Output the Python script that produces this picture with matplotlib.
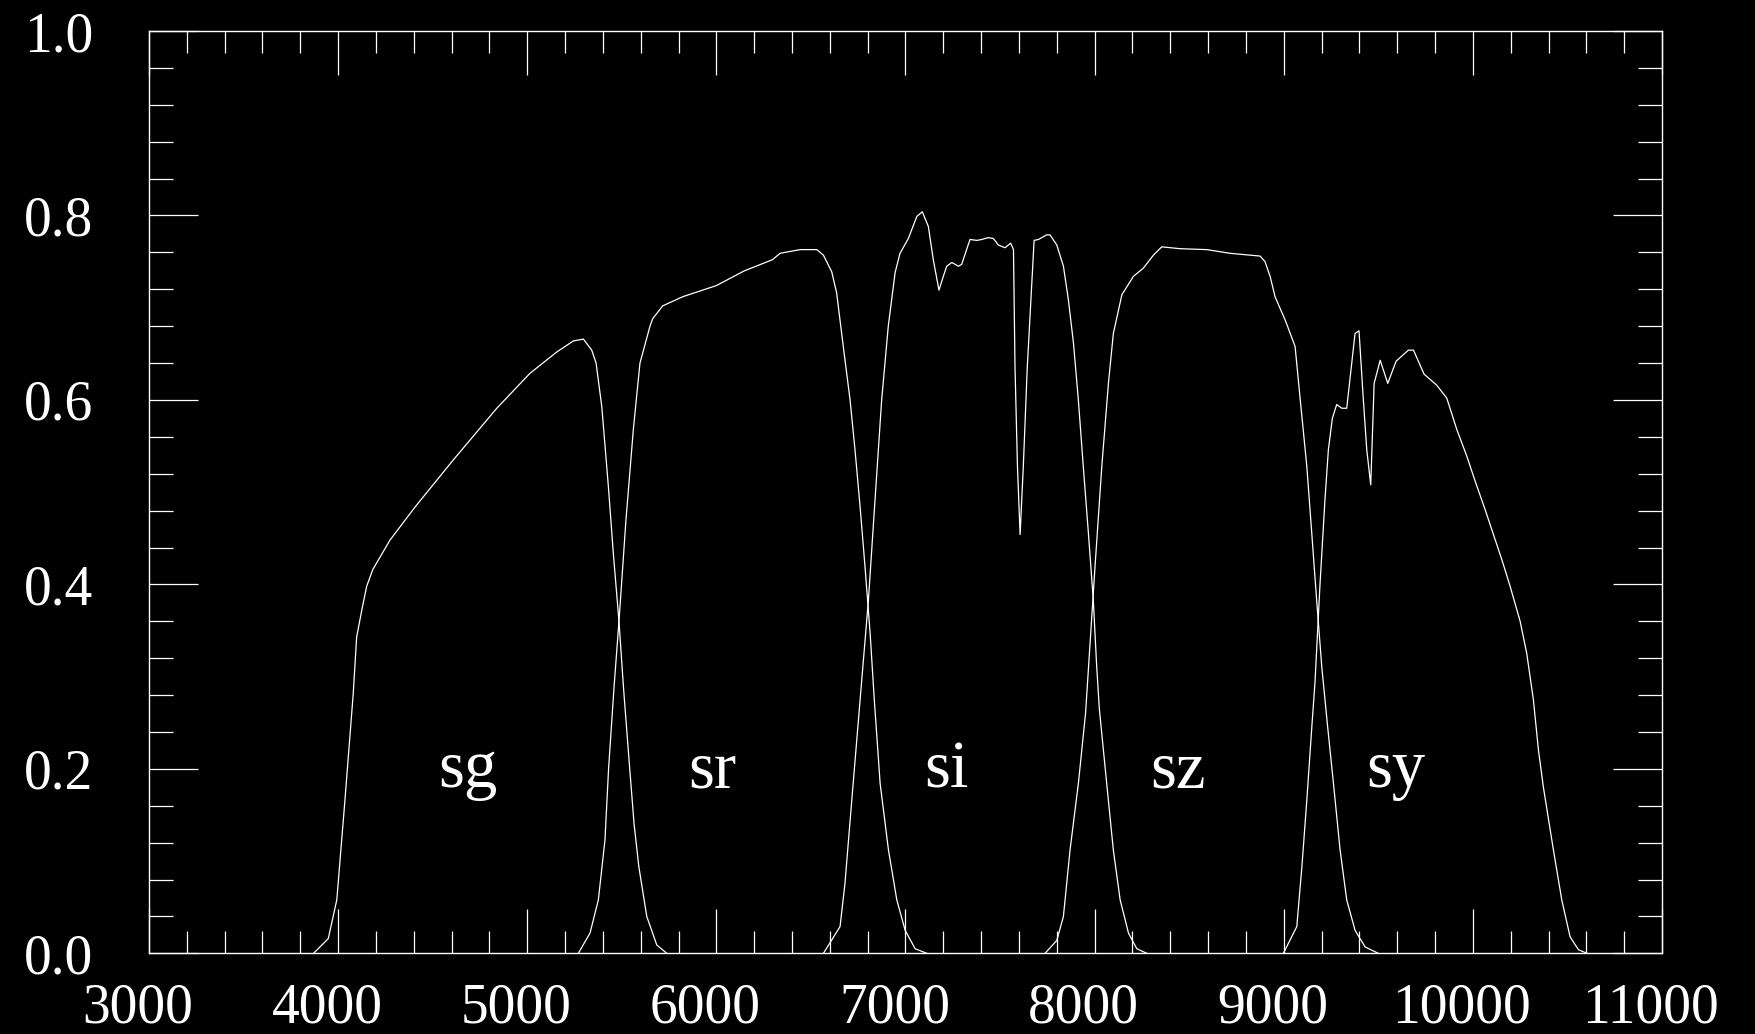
import matplotlib
matplotlib.use("Agg")
import matplotlib.pyplot as plt
from matplotlib.ticker import MultipleLocator
from matplotlib.transforms import ScaledTranslation

# filter transmission curves (wavelength in Angstrom, throughput)
sg_wave = [3870, 3948, 3993, 4036, 4080, 4098, 4125, 4151, 4183, 4274, 4407, 4609, 4839,
           5015, 5156, 5244, 5297, 5341, 5364, 5394, 5429, 5455, 5485, 5510, 5540, 5565,
           5590, 5632, 5685, 5738]
sg_trans = [0.0, 0.016, 0.058, 0.166, 0.282, 0.343, 0.372, 0.398, 0.416, 0.448, 0.484, 0.535,
            0.591, 0.629, 0.652, 0.664, 0.666, 0.654, 0.640, 0.593, 0.506, 0.434, 0.360,
            0.285, 0.205, 0.140, 0.094, 0.040, 0.009, 0.0]

sr_wave = [5270, 5332, 5376, 5411, 5430, 5459, 5485, 5522, 5561, 5596, 5649, 5663, 5716,
           5823, 6000, 6148, 6296, 6337, 6443, 6531, 6566, 6610, 6636, 6671, 6707, 6733,
           6760, 6786, 6813, 6835, 6866, 6910, 6954, 6998, 7051, 7113]
sr_trans = [0.0, 0.022, 0.058, 0.123, 0.200, 0.289, 0.360, 0.470, 0.568, 0.640, 0.680, 0.688,
            0.702, 0.712, 0.724, 0.740, 0.752, 0.759, 0.763, 0.763, 0.757, 0.739, 0.716,
            0.658, 0.600, 0.546, 0.484, 0.419, 0.347, 0.275, 0.184, 0.112, 0.058, 0.025,
            0.005, 0.0]

si_wave = [6566, 6654, 6680, 6716, 6760, 6804, 6839, 6874, 6909, 6945, 6971, 7015, 7060,
           7089, 7121, 7147, 7177, 7200, 7218, 7245, 7280, 7297, 7341, 7377, 7403, 7438,
           7465, 7491, 7526, 7556, 7571, 7579, 7592, 7606, 7623, 7644, 7668, 7680, 7703,
           7747, 7764, 7800, 7835, 7861, 7888, 7914, 7940, 7967, 7993, 8011, 8025, 8064,
           8099, 8135, 8179, 8223, 8276]
si_trans = [0.0, 0.029, 0.076, 0.166, 0.275, 0.383, 0.492, 0.600, 0.680, 0.738, 0.759, 0.775,
            0.799, 0.804, 0.788, 0.752, 0.719, 0.734, 0.745, 0.749, 0.745, 0.747, 0.774,
            0.773, 0.774, 0.776, 0.775, 0.768, 0.765, 0.770, 0.763, 0.636, 0.528, 0.454,
            0.528, 0.636, 0.727, 0.773, 0.774, 0.779, 0.779, 0.768, 0.745, 0.709, 0.662,
            0.600, 0.528, 0.456, 0.383, 0.311, 0.265, 0.184, 0.112, 0.058, 0.022, 0.005, 0.0]

sz_wave = [7738, 7800, 7835, 7870, 7914, 7952, 8002, 8038, 8073, 8099, 8144, 8205, 8258,
           8311, 8355, 8452, 8593, 8716, 8875, 8901, 8928, 8954, 8977, 9007, 9060, 9085,
           9122, 9148, 9174, 9201, 9230, 9263, 9298, 9333, 9377, 9430, 9500]
sz_trans = [0.0, 0.014, 0.040, 0.112, 0.184, 0.260, 0.419, 0.528, 0.618, 0.672, 0.714, 0.734,
            0.743, 0.757, 0.766, 0.764, 0.763, 0.759, 0.756, 0.750, 0.734, 0.712, 0.701,
            0.687, 0.658, 0.605, 0.528, 0.456, 0.383, 0.311, 0.250, 0.184, 0.112, 0.058,
            0.025, 0.007, 0.0]

sy_wave = [8998, 9069, 9096, 9122, 9150, 9165, 9192, 9218, 9236, 9257, 9280, 9307, 9333,
           9377, 9398, 9421, 9439, 9460, 9478, 9510, 9550, 9594, 9659, 9686, 9742, 9809,
           9862, 9915, 9968, 10012, 10065, 10109, 10153, 10197, 10250, 10285, 10320,
           10347, 10373, 10426, 10470, 10514, 10558, 10603]
sy_trans = [0.0, 0.029, 0.094, 0.166, 0.250, 0.293, 0.401, 0.492, 0.546, 0.580, 0.595, 0.591,
            0.591, 0.672, 0.675, 0.600, 0.546, 0.508, 0.618, 0.643, 0.618, 0.642, 0.654,
            0.654, 0.628, 0.616, 0.602, 0.568, 0.539, 0.512, 0.481, 0.454, 0.427, 0.398,
            0.360, 0.325, 0.275, 0.220, 0.180, 0.112, 0.058, 0.018, 0.004, 0.0]

filter_names = ["sg", "sr", "si", "sz", "sy"]
label_x = [4530, 5850, 7100, 8295, 9435]
label_y = 0.18

curves = [(sg_wave, sg_trans), (sr_wave, sr_trans), (si_wave, si_trans),
          (sz_wave, sz_trans), (sy_wave, sy_trans)]

plt.rcParams['font.family'] = ['Liberation Serif', 'DejaVu Serif']

fig = plt.figure(figsize=(17.55, 10.34), dpi=100, facecolor='black')
ax = fig.add_axes([0.0849, 0.0780, 0.8621, 0.8920])
ax.set_facecolor('black')

for wave, trans in curves:
    ax.plot(wave, trans, color='white', lw=0.9)

for name, x in zip(filter_names, label_x):
    ax.text(x, label_y, name, color='white', fontsize=48, ha='left', va='baseline')

ax.set_xlim(3000, 11000)
ax.set_ylim(0, 1.0)
ax.xaxis.set_major_locator(MultipleLocator(1000))
ax.xaxis.set_minor_locator(MultipleLocator(200))
ax.yaxis.set_major_locator(MultipleLocator(0.2))
ax.yaxis.set_minor_locator(MultipleLocator(0.04))
ax.yaxis.set_major_formatter(matplotlib.ticker.FormatStrFormatter('%.1f'))

for s in ax.spines.values():
    s.set_color('white')
    s.set_linewidth(1.0)

ax.tick_params(which='both', direction='in', top=True, right=True, colors='white', width=0.9)
ax.tick_params(axis='x', which='major', length=32, pad=21, labelsize=40)
ax.tick_params(axis='x', which='minor', length=16)
ax.tick_params(axis='y', which='major', length=35, pad=40, labelsize=40)
ax.tick_params(axis='y', which='minor', length=17)

shift = ScaledTranslation(-11 / 100, 0, fig.dpi_scale_trans)
for lbl in ax.get_xticklabels():
    lbl.set_transform(lbl.get_transform() + shift)

fig.savefig('out.png', dpi=100, facecolor='black')
